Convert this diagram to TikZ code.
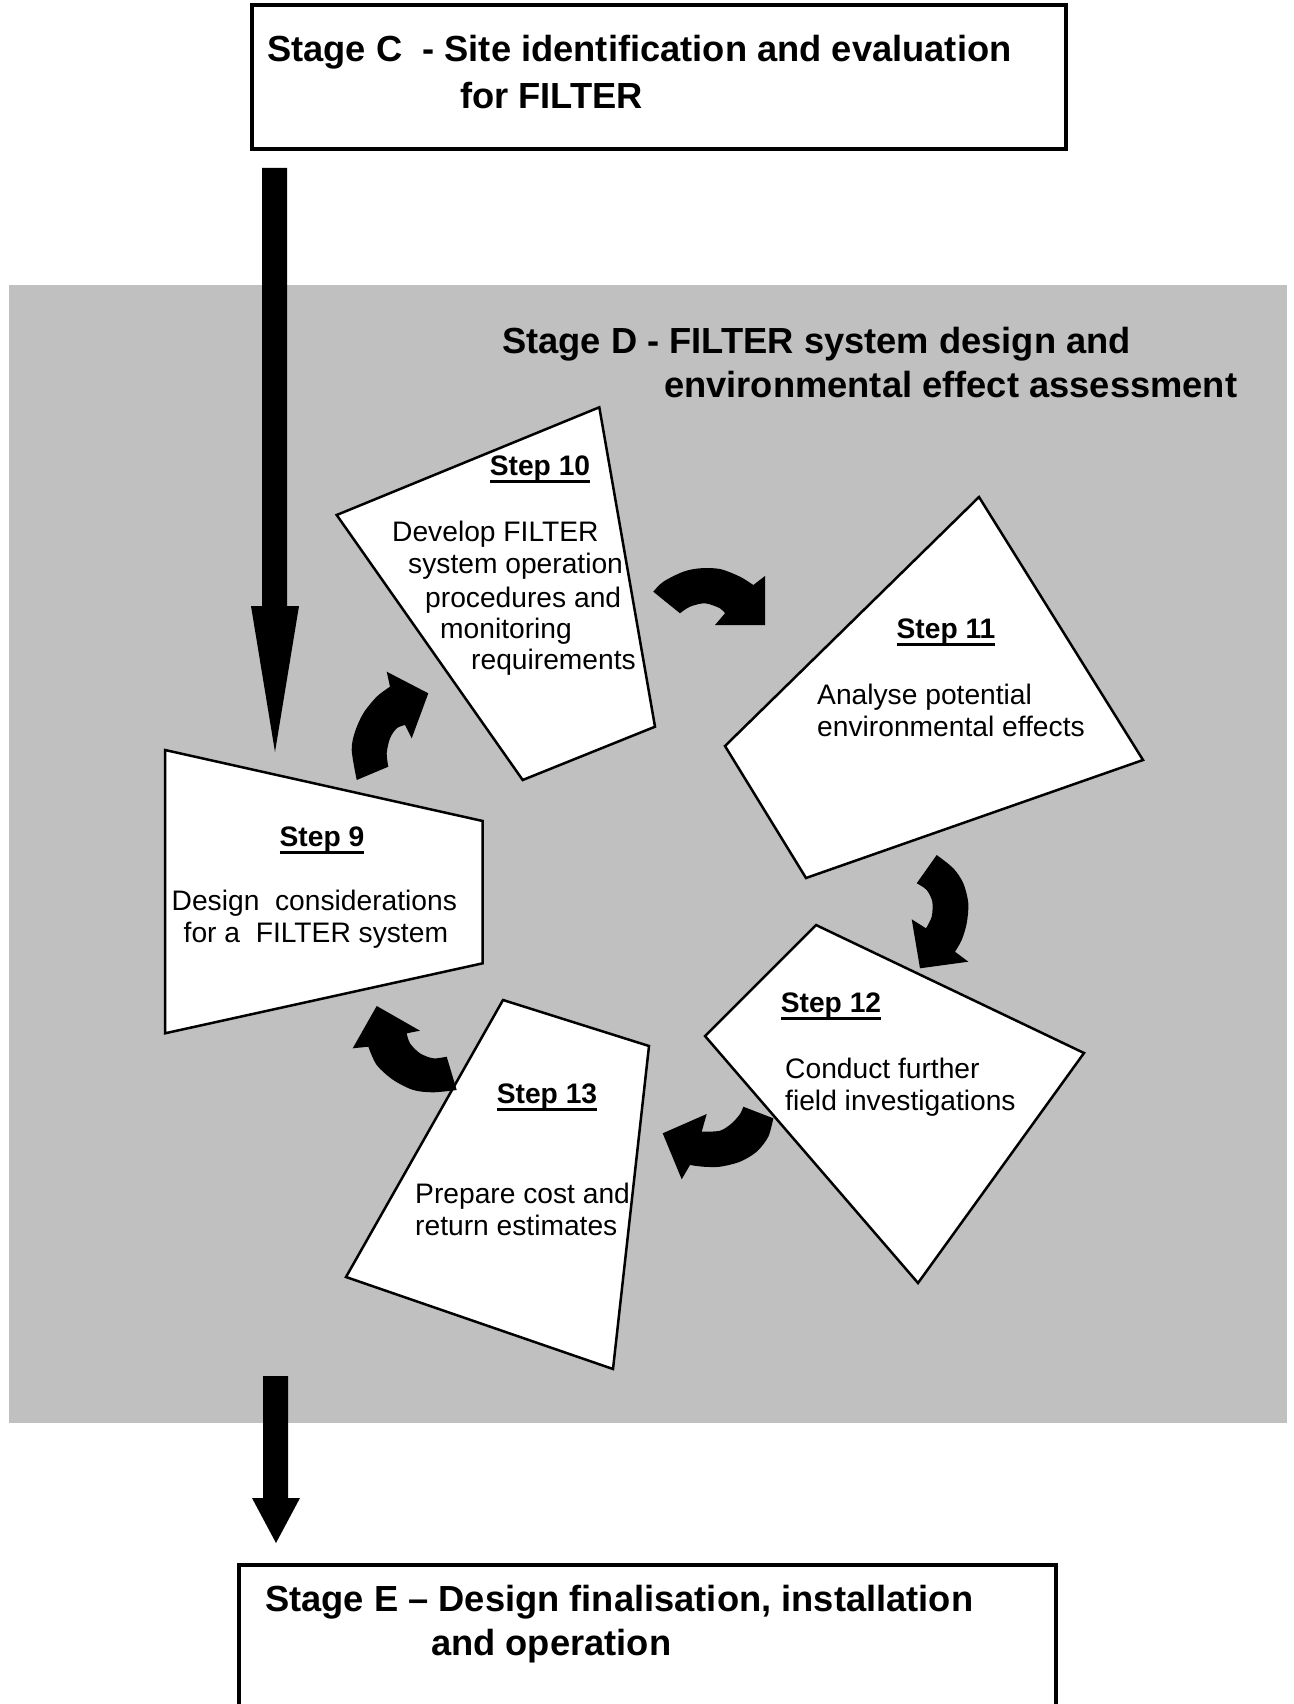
\documentclass[tikz,border=0pt]{standalone}
\usepackage{fontspec}
\setmainfont{Liberation Sans}
\definecolor{bggray}{RGB}{192,192,192}
\newcommand{\myul}[1]{\setbox0\hbox{#1}\rlap{\rule[-7.5pt]{\wd0}{3pt}}\box0}
\tikzset{
  body/.style={anchor=base west, inner sep=0pt, font=\fontsize{28.2}{32}\selectfont},
  stephead/.style={anchor=base, inner sep=0pt, font=\fontsize{28.2}{32}\selectfont\bfseries},
  stagetitle/.style={anchor=base west, inner sep=0pt, font=\fontsize{36.3}{42}\selectfont\bfseries},
  quad/.style={draw=black, fill=white, line width=2.5pt, line join=miter},
  stagebox/.style={draw=black, line width=3.5pt},
  blockarrow/.style={fill=black},
  curvearrow/.style={fill=black},
}
\begin{document}
\begin{tikzpicture}[x=1pt,y=-1pt]
\useasboundingbox (0,0) rectangle (1293,1704);
% Stage D background
\fill[bggray] (9,285) rectangle (1287,1423);

% Stage C box
\draw[stagebox] (252,5) rectangle (1066,149);
\node[stagetitle] (c1) at (267,62) {Stage C\ \ - Site identification and evaluation};
\node[stagetitle] (c2) at (460,109) {for FILTER};

% Stage E box (open at the bottom)
\draw[stagebox] (239,1710) -- (239,1565) -- (1056,1565) -- (1056,1710);
\node[stagetitle] (e1) at (265,1611) {Stage E -- Design finalisation, installation};
\node[stagetitle] (e2) at (431,1655) {and operation};

% Stage D title
\node[stagetitle] (d1) at (502,353) {Stage D - FILTER system design and};
\node[stagetitle] (d2) at (664,397) {environmental effect assessment};

% Big arrows
\fill[blockarrow] (262,168) -- (262,606) -- (251,606) -- (275,752) -- (299,606) -- (287,606) -- (287,168) -- cycle;
\fill[blockarrow] (263,1376) -- (263,1498) -- (252,1498) -- (276,1543) -- (300,1498) -- (288,1498) -- (288,1376) -- cycle;

% Step quads
\draw[quad] (165,750) -- (482.7,821) -- (482.7,963.3) -- (165,1033.3) -- cycle;
\draw[quad] (336.7,515) -- (599.3,407.3) -- (655,726.7) -- (522.7,780) -- cycle;
\draw[quad] (979,497) -- (1143,760) -- (806,878) -- (725,746) -- cycle;
\draw[quad] (816,925) -- (1084,1053) -- (918,1283) -- (705,1036) -- cycle;
\draw[quad] (503,1000) -- (649,1046) -- (613,1369) -- (346,1277) -- cycle;

% Step 9 text
\node[stephead] (s9h) at (322,846) {\myul{Step 9}};
\node[body] (s9a) at (171.5,910.5) {Design\ \ considerations};
\node[body] (s9b) at (183.5,942.5) {for a\ \ FILTER system};

% Step 10 text
\node[stephead] (s10h) at (540,475) {\myul{Step 10}};
\node[body] (s10a) at (392,541) {Develop FILTER};
\node[body] (s10b) at (408,573) {system operation};
\node[body] (s10c) at (425,607) {procedures and};
\node[body] (s10d) at (440,638) {monitoring};
\node[body] (s10e) at (471,669) {requirements};

% Step 11 text
\node[stephead] (s11h) at (946,638) {\myul{Step 11}};
\node[body] (s11a) at (817,704) {Analyse potential};
\node[body] (s11b) at (817,736) {environmental effects};

% Step 12 text
\node[stephead] (s12h) at (831,1012) {\myul{Step 12}};
\node[body] (s12a) at (785,1078) {Conduct further};
\node[body] (s12b) at (785,1110) {field investigations};

% Step 13 text
\node[stephead] (s13h) at (547,1103) {\myul{Step 13}};
\node[body] (s13a) at (415,1203) {Prepare cost and};
\node[body] (s13b) at (415,1235) {return estimates};

% Curved arrows
% 10 -> 11
\fill[curvearrow] (653.3,591.7) -- plot[smooth] coordinates {(653.3,591.7)(663.3,581.7)(683.3,571.7)(700,568.3)(720,569)(740,576.7)(753.3,585)} -- (765,576) -- (765,625) -- (715,625) -- plot[smooth] coordinates {(725,613.3)(720,608.3)(705,603.3)(690,606.7)(680,613.3)} -- cycle;
% 9 -> 10
\fill[curvearrow] (386.7,671.7) -- (428.3,693.3) -- (411.7,738.3) -- plot[smooth] coordinates {(405,725)(396.7,728.3)(390,738.3)(386.7,753.3)(388.3,766.7)} -- plot[smooth] coordinates {(356.7,780)(351.7,750)(355,731.7)(363.3,713.3)(376.7,696.7)(390,686.7)} -- cycle;
% 11 -> 12
\fill[curvearrow] (936.7,855) -- plot[smooth] coordinates {(936.7,855)(953.3,868.3)(963.3,883.3)(968.3,903.3)(966.7,923.3)(961.7,940)(955,951.7)} -- (968.3,961.7) -- (920,968.3) -- (911.7,919.3) -- plot[smooth] coordinates {(926,928.3)(931.7,916.7)(932.3,901.7)(926.7,890)(916.7,883.3)} -- cycle;
% 12 -> 13
\fill[curvearrow] (743.3,1106.7) -- plot[smooth] coordinates {(773.3,1118.3)(768.3,1136.7)(756.7,1151.7)(740,1161.7)(720,1166.7)(703.3,1166.7)(690,1165)} -- (681.7,1179.3) -- (662.7,1133.3) -- (706.7,1114) -- plot[smooth] coordinates {(701.7,1131.7)(720,1130.7)(731.7,1123.3)(740,1114)(743.3,1106.7)} -- cycle;
% 13 -> 9
\fill[curvearrow] (376.7,1006) -- (420,1030.7) -- plot[smooth] coordinates {(406.7,1033.3)(410,1043.3)(420,1053.3)(433.3,1058.3)(446.7,1056.7)} -- plot[smooth] coordinates {(456.7,1090)(433.3,1092.3)(413.3,1090)(393.3,1080)(376.7,1065)(368.3,1046.7)} -- (352.7,1048.3) -- cycle;
\end{tikzpicture}
\end{document}
